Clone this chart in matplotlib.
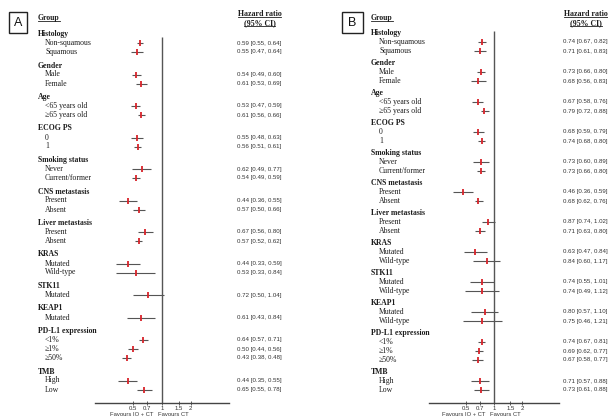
import matplotlib
matplotlib.use("Agg")
import matplotlib.pyplot as plt
from matplotlib.patches import Rectangle
from matplotlib.lines import Line2D

# ---------------- data ----------------
groups_A = ["Histology", "Gender", "Age", "ECOG PS", "Smoking status", "CNS metastasis",
            "Liver metastasis", "KRAS", "STK11", "KEAP1", "PD-L1 expression", "TMB"]
subgroups_A = [["Non-squamous", "Squamous"], ["Male", "Female"],
               ["<65 years old", "\u226565 years old"], ["0", "1"],
               ["Never", "Current/former"], ["Present", "Absent"],
               ["Present", "Absent"], ["Mutated", "Wild-type"], ["Mutated"], ["Mutated"],
               ["<1%", "\u22651%", "\u226550%"], ["High", "Low"]]
hr_A = [0.59, 0.55, 0.54, 0.61, 0.53, 0.61, 0.55, 0.56, 0.62, 0.54, 0.44, 0.57,
        0.67, 0.57, 0.44, 0.53, 0.72, 0.61, 0.64, 0.50, 0.43, 0.44, 0.65]
lo_A = [0.55, 0.47, 0.49, 0.53, 0.47, 0.56, 0.48, 0.51, 0.49, 0.49, 0.36, 0.50,
        0.56, 0.52, 0.33, 0.33, 0.50, 0.43, 0.57, 0.44, 0.38, 0.35, 0.55]
hi_A = [0.64, 0.64, 0.60, 0.69, 0.59, 0.66, 0.63, 0.61, 0.77, 0.59, 0.55, 0.66,
        0.80, 0.62, 0.59, 0.84, 1.04, 0.84, 0.71, 0.56, 0.48, 0.55, 0.78]

groups_B = groups_A
subgroups_B = [["Non-squamous", "Squamous"], ["Male", "Female"],
               ["<65 years old", "\u226565 years old"], ["0", "1"],
               ["Never", "Current/former"], ["Present", "Absent"],
               ["Present", "Absent"], ["Mutated", "Wild-type"], ["Mutated", "Wild-type"],
               ["Mutated", "Wild-type"], ["<1%", "\u22651%", "\u226550%"], ["High", "Low"]]
hr_B = [0.74, 0.71, 0.73, 0.68, 0.67, 0.79, 0.68, 0.74, 0.73, 0.73, 0.46, 0.68,
        0.87, 0.71, 0.63, 0.84, 0.74, 0.74, 0.80, 0.75, 0.74, 0.69, 0.67, 0.71, 0.73]
lo_B = [0.67, 0.61, 0.66, 0.56, 0.58, 0.72, 0.59, 0.68, 0.60, 0.66, 0.36, 0.62,
        0.74, 0.63, 0.47, 0.60, 0.55, 0.49, 0.57, 0.46, 0.67, 0.62, 0.58, 0.57, 0.61]
hi_B = [0.82, 0.83, 0.80, 0.83, 0.76, 0.88, 0.79, 0.80, 0.89, 0.80, 0.59, 0.76,
        1.02, 0.80, 0.84, 1.17, 1.01, 1.12, 1.10, 1.21, 0.81, 0.77, 0.77, 0.88, 0.88]

xticks = [0.5, 0.7, 1, 1.5, 2]
xtick_labels = ["0.5", "0.7", "1", "1.5", "2"]

# ---------------- figure ----------------
W, H = 608, 420
fig = plt.figure(figsize=(W / 100, H / 100), dpi=100)
ov = fig.add_axes([0, 0, 1, 1])
ov.set_xlim(0, W)
ov.set_ylim(H, 0)
ov.axis("off")

SERIF = ["Liberation Serif", "DejaVu Serif"]
SANS = ["Liberation Sans", "DejaVu Sans"]
TXT = "#1e1e1e"
RED = "#d8232a"
GREY = "#555555"

underline_texts = []


def layout(groups, subs, y0, step, gap):
    ys_head, ys_item = [], []
    y = y0
    for gi, g in enumerate(groups):
        if gi > 0:
            y += gap
        ys_head.append(y)
        for _ in subs[gi]:
            y += step
            ys_item.append(y)
    return ys_head, ys_item


def panel(letter, box, groups, subs, hr, lo, hi, y0, step, gap,
          x_head, x_item, x_hr, hr_title_x, ax_left, ax_right, vline_top):
    # letter box
    bx, by, bw, bh = box
    ov.add_patch(Rectangle((bx, by), bw, bh, fill=False, lw=1.0, ec="#222222"))
    ov.text(bx + bw / 2, by + bh / 2 + 0.5, letter, ha="center", va="center",
            fontsize=9, family=SANS, color="#111111")

    t = ov.text(x_head, 18, "Group", ha="left", va="center", fontsize=5.6,
                family=SERIF, weight="bold", color=TXT)
    underline_texts.append(t)
    t = ov.text(hr_title_x, 14, "Hazard ratio", ha="center", va="center", fontsize=5.7,
                family=SERIF, weight="bold", color=TXT)
    underline_texts.append(t)
    t = ov.text(hr_title_x, 23, "(95% CI)", ha="center", va="center", fontsize=5.7,
                family=SERIF, weight="bold", color=TXT)
    underline_texts.append(t)

    ys_head, ys_item = layout(groups, subs, y0, step, gap)
    for g, y in zip(groups, ys_head):
        ov.text(x_head, y, g, ha="left", va="center", fontsize=5.6, family=SERIF,
                weight="bold", color=TXT)
    labels = [s for sub in subs for s in sub]
    for lab, y, h, l, u in zip(labels, ys_item, hr, lo, hi):
        ov.text(x_item, y, lab, ha="left", va="center", fontsize=5.6, family=SERIF,
                color=TXT)
        ov.text(x_hr, y, f"{h:.2f} [{l:.2f}, {u:.2f}]", ha="left", va="center",
                fontsize=4.4, family=SANS, color="#333333")

    axis_y = 403
    ax = fig.add_axes([ax_left / W, (H - axis_y) / H, (ax_right - ax_left) / W, axis_y / H])
    ax.set_xscale("log")
    ax.set_xlim(0.2, 5)
    ax.set_ylim(axis_y, 0)
    ax.patch.set_alpha(0)
    for s in ["left", "right", "top"]:
        ax.spines[s].set_visible(False)
    ax.spines["bottom"].set_color("#444444")
    ax.spines["bottom"].set_linewidth(1.0)
    ax.set_yticks([])
    ax.set_xticks(xticks)
    ax.set_xticklabels(xtick_labels)
    ax.xaxis.set_minor_locator(matplotlib.ticker.NullLocator())
    ax.tick_params(axis="x", direction="inout", length=3, width=0.6, colors="#444444",
                   labelsize=4.3, pad=0.5, labelcolor="#333333")
    for lab in ax.get_xticklabels():
        lab.set_family(SANS)
    ax.vlines(1, vline_top, axis_y, color="#555555", lw=1.0)
    ax.hlines(ys_item, lo, hi, color=GREY, lw=0.8)
    ax.plot(hr, ys_item, ls="none", marker="|", ms=5, mew=1.3, color=RED)

    # favours labels (placed relative to the x=1 line, in pixels)
    x1 = (ax_left + ax_right) / 2
    ov.text(x1 - 9, 414, "Favours IO + CT", ha="right", va="center", fontsize=4.2,
            family=SANS, color="#333333")
    ov.text(x1 - 4, 414, "Favours CT", ha="left", va="center", fontsize=4.2,
            family=SANS, color="#333333")


panel("A", (9, 12, 18, 21), groups_A, subgroups_A, hr_A, lo_A, hi_A,
      34, 9, 13.5, 38, 45, 237, 259.5, 95, 229, 37)
panel("B", (342, 12, 21, 21), groups_B, subgroups_B, hr_B, lo_B, hi_B,
      33, 9, 12, 371, 379, 563, 586, 429, 559, 31)

# underline the title texts
fig.canvas.draw()
r = fig.canvas.get_renderer()
inv = ov.transData.inverted()
for t in underline_texts:
    bb = t.get_window_extent(r)
    (xa, ya) = inv.transform((bb.x0, bb.y0 + 0.5))
    (xb, yb) = inv.transform((bb.x1, bb.y0 + 0.5))
    ov.add_line(Line2D([xa, xb], [ya, yb], color=TXT, lw=0.6))

fig.savefig("out.png", dpi=100)
